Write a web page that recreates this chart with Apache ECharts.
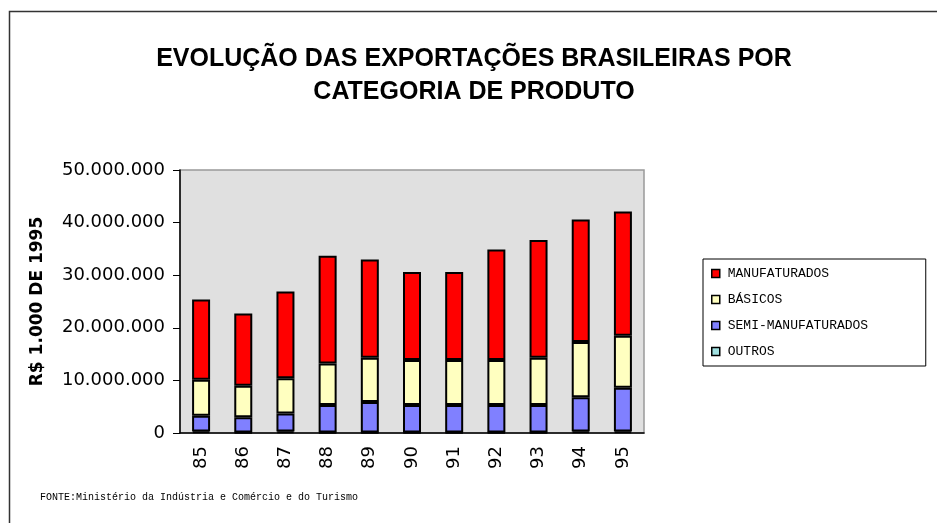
<!DOCTYPE html>
<html><head><meta charset="utf-8">
<script src="https://cdn.jsdelivr.net/npm/echarts@6/dist/echarts.min.js"></script>
<style>html,body{margin:0;padding:0;background:#fff}#c{width:937px;height:523px}</style>
</head><body><div id="c"></div>
<script>
const categories = ['85','86','87','88','89','90','91','92','93','94','95'];
const outros = [300000,100000,300000,100000,100000,100000,100000,100000,100000,300000,300000];
const semiManufaturados = [3000000,2900000,3400000,5200000,5800000,5200000,5200000,5200000,5200000,6500000,8300000];
const basicos = [6800000,6000000,6700000,7900000,8400000,8600000,8600000,8600000,9000000,10500000,9900000];
const manufaturados = [15300000,13700000,16500000,20500000,18700000,16700000,16700000,21000000,22400000,23300000,23600000];
const yTicks = [0,10000000,20000000,30000000,40000000,50000000];

function fmt(v){ return String(v).replace(/\B(?=(\d{3})+(?!\d))/g,'.'); }

const chart = echarts.init(document.getElementById('c'));
const barBase = {type:'bar', stack:'t', barWidth:18};
chart.setOption({
  animation:false,
  backgroundColor:'#fff',
  title:{
    text:'EVOLUÇÃO DAS EXPORTAÇÕES BRASILEIRAS POR\nCATEGORIA DE PRODUTO',
    left:469, textAlign:'center', top:38,
    textStyle:{fontFamily:'Liberation Sans', fontWeight:'bold', fontSize:25, lineHeight:33, color:'#000'}
  },
  legend:{
    orient:'vertical', left:703, top:259,
    data:['MANUFATURADOS','BÁSICOS','SEMI-MANUFATURADOS','OUTROS'],
    borderColor:'#000', borderWidth:1, padding:[8,8,8,8],
    itemWidth:8, itemHeight:8, itemGap:13, icon:'rect',
    itemStyle:{borderColor:'#000', borderWidth:1.5},
    textStyle:{fontFamily:'Liberation Mono', fontSize:13, color:'#000', width:190, lineHeight:13, padding:[0,0,0,3]}
  },
  grid:{left:180, top:170, width:464, height:263, show:true, backgroundColor:'#e0e0e0', borderColor:'#999', borderWidth:1.5},
  xAxis:{
    type:'category', data:categories,
    axisLine:{lineStyle:{color:'#000', width:1.5}},
    axisTick:{length:6, lineStyle:{color:'#000'}},
    axisLabel:{rotate:90, fontFamily:'DejaVu Sans', fontSize:18, color:'#000', margin:13}
  },
  yAxis:{
    type:'value', min:0, max:50000000, interval:10000000,
    name:'R$ 1.000 DE 1995', nameLocation:'middle', nameRotate:90, nameGap:134,
    nameTextStyle:{fontFamily:'DejaVu Sans', fontWeight:'bold', fontSize:17, color:'#000'},
    splitLine:{show:false},
    axisLine:{show:true, lineStyle:{color:'#000', width:1.5}},
    axisTick:{show:true, length:7, lineStyle:{color:'#000'}},
    axisLabel:{fontFamily:'DejaVu Sans', fontSize:18, color:'#000', margin:15,
      formatter:function(v){ return yTicks.indexOf(v)>=0 ? fmt(v) : ''; }}
  },
  series:[
    Object.assign({}, barBase, {name:'OUTROS', data:outros, itemStyle:{color:'#a0e0e0', borderColor:'#000', borderWidth:2}}),
    Object.assign({}, barBase, {name:'SEMI-MANUFATURADOS', data:semiManufaturados, itemStyle:{color:'#8080ff', borderColor:'#000', borderWidth:2}}),
    Object.assign({}, barBase, {name:'BÁSICOS', data:basicos, itemStyle:{color:'#ffffc0', borderColor:'#000', borderWidth:2}}),
    Object.assign({}, barBase, {name:'MANUFATURADOS', data:manufaturados, itemStyle:{color:'#ff0000', borderColor:'#000', borderWidth:2}})
  ],
  graphic:[
    {type:'rect', shape:{x:9.5, y:11.5, width:1000, height:1000}, style:{fill:'none', stroke:'#333', lineWidth:1.5}, silent:true},
    {type:'text', left:40, top:492, style:{text:'FONTE:Ministério da Indústria e Comércio e do Turismo', fontFamily:'Liberation Mono', fontSize:10, fill:'#000'}}
  ]
});
</script></body></html>
